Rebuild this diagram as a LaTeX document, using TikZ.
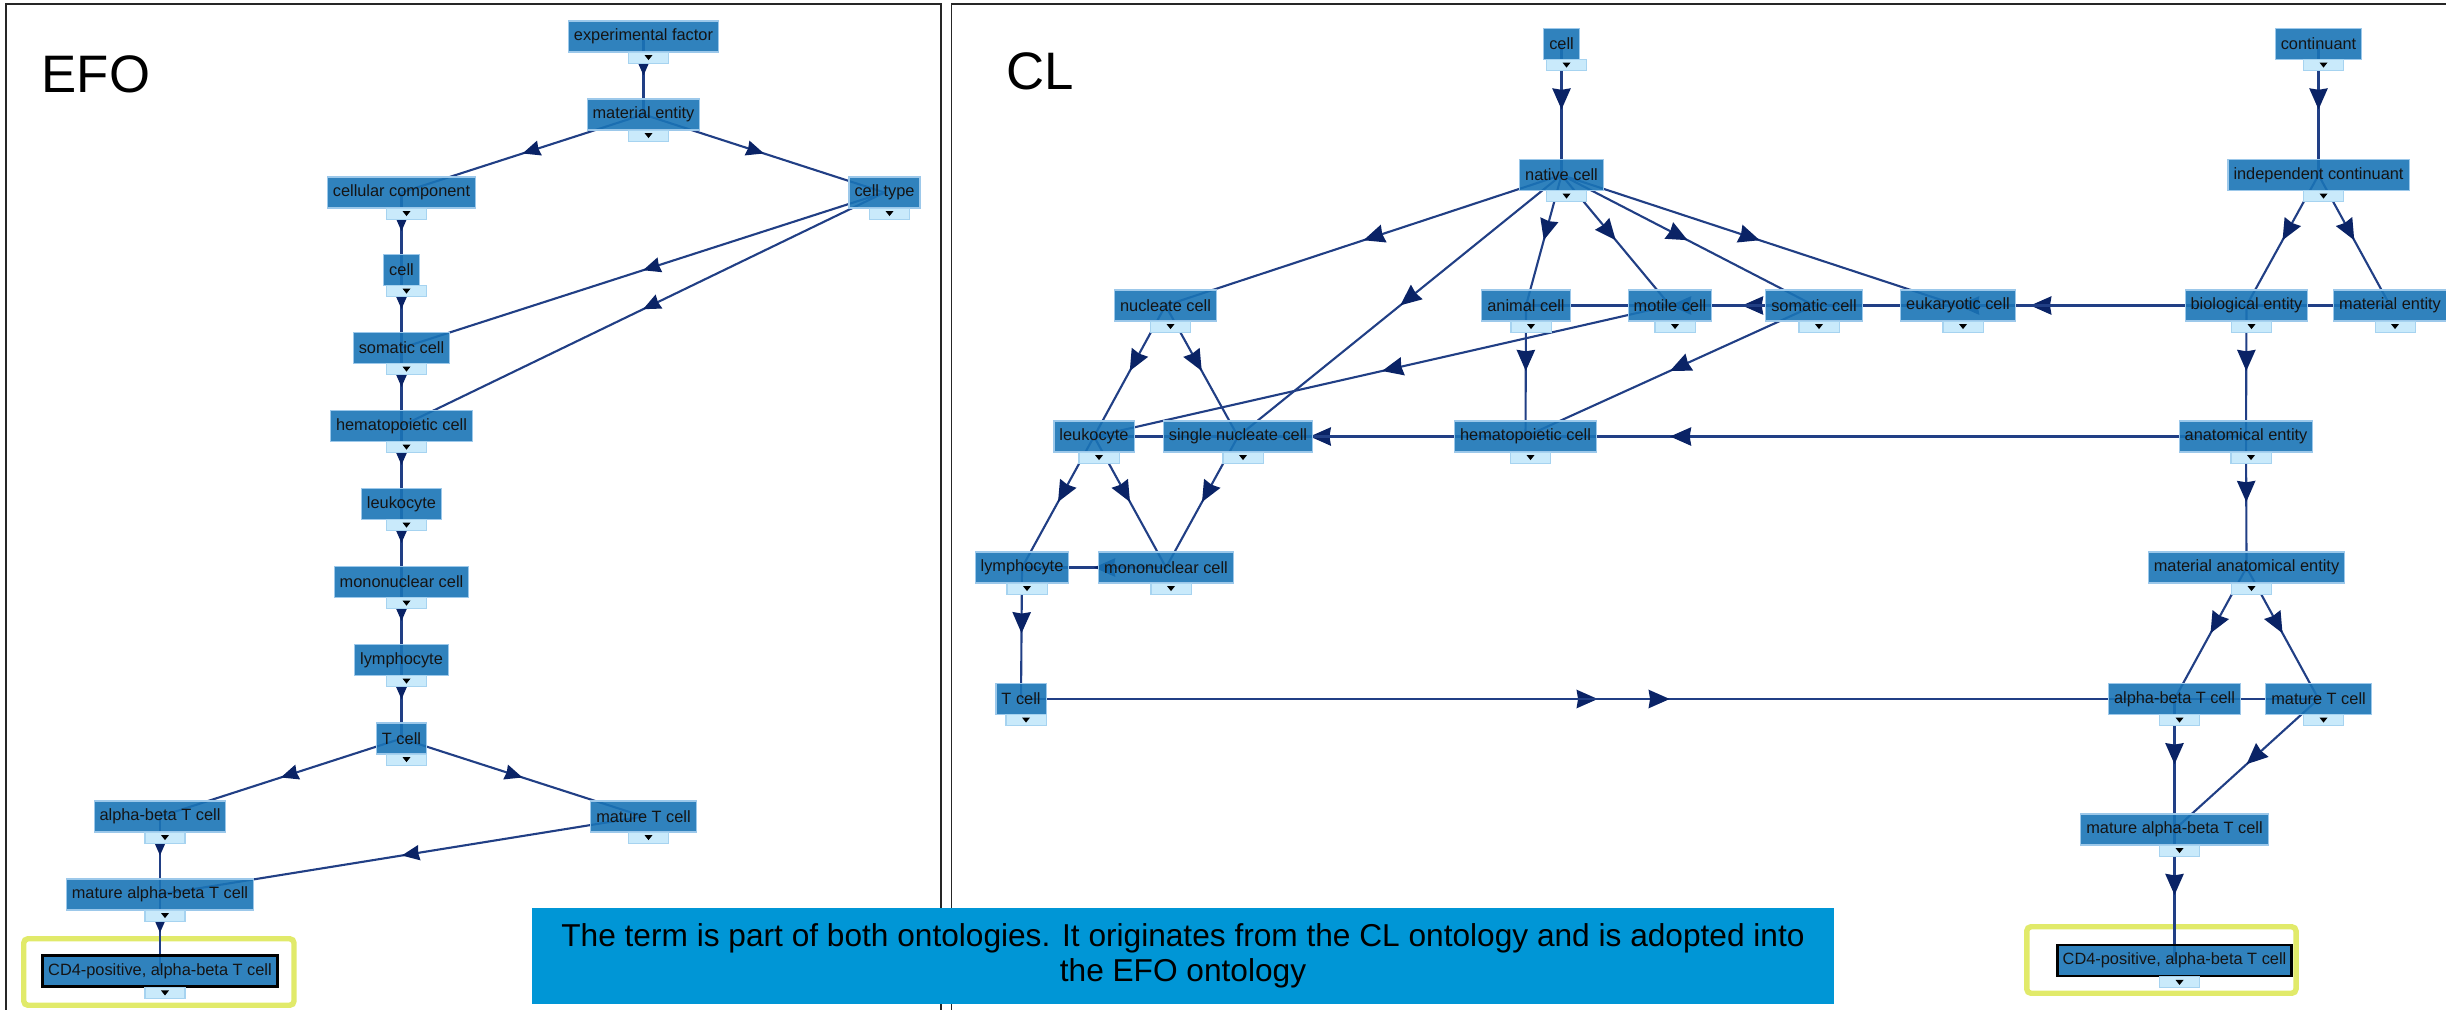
\documentclass[tikz,border=0pt]{standalone}
\usepackage{fontspec}
\setmainfont{Liberation Sans}
\usetikzlibrary{arrows.meta, calc, positioning, decorations.markings}
\definecolor{tfill}{HTML}{1A74B6}
\definecolor{tedge}{HTML}{9CC8EA}
\definecolor{tgfill}{HTML}{C9EAFB}
\definecolor{tgedge}{HTML}{A6D3F0}
\definecolor{linkblue}{HTML}{213F85}
\definecolor{tipblue}{HTML}{0A2366}
\definecolor{notecyan}{HTML}{0096D6}
\definecolor{hilite}{HTML}{E1EA6A}
\pgfdeclarelayer{back}
\pgfsetlayers{back,main}
\tikzset{
  term/.style={rectangle, fill=tfill, draw=tedge, line width=0.3pt, fill opacity=0.9,
    text opacity=1, minimum height=0.31cm, inner xsep=0.055cm, inner ysep=0pt,
    font=\fontsize{4.65}{5}\selectfont, text=black!92},
  chosen/.style={draw=black, line width=0.8pt},
  tog/.style={rectangle, fill=tgfill, draw=tgedge, line width=0.3pt, minimum width=0.4cm,
    minimum height=0.11cm, inner sep=0pt, anchor=north},
  link/.style={draw=linkblue, line width=0.6pt, postaction={decorate}},
  efolink/.style={link, decoration={markings, mark=at position 0.5 with
    {\arrow{Stealth[length=5pt, width=4.3pt, inset=0.3pt, color=tipblue]}}}},
  cllink/.style={link, decoration={markings, mark=at position 0.5 with
    {\arrow{Stealth[length=6pt, width=5.2pt, inset=0.4pt, color=tipblue]}}}},
  frame/.style={draw=black!85, line width=0.55pt},
  pick/.style={draw=hilite, line width=1.55pt, rounded corners=1.2pt},
  notebox/.style={fill=notecyan, minimum width=13.02cm, minimum height=0.96cm, inner sep=0pt,
    align=center, font=\fontsize{9}{10}\selectfont},
  big/.style={font=\fontsize{15}{18}\selectfont, anchor=base west, inner sep=0pt}
}
% one ontology term with its expand toggle below
\newcommand{\oterm}[4][]{%
  \node[term,#1] (#2) at (#3) {#4};
  \node[tog] (#2-t) at ($(#2.south)+(5,-1)$) {};
  \fill ($(#2-t.center)+(-4,-2.5)$) -- ++(8,0) -- ++(-4,5) -- cycle;}

\begin{document}
\begin{tikzpicture}[x=0.01cm, y=-0.01cm]
  \useasboundingbox (0,0) rectangle (2446,1009);
  \draw[frame] (6,1015) |- (941,4) -- (941,1015);
  \draw[frame] (951.5,1015) |- (2450,4);
  \node[big] (lbl-efo) at (41,92.5) {EFO};
  \node[big] (lbl-cl) at (1006,89.5) {CL};

  % EFO
  \oterm{e-expf}{643.5,36.5}{experimental factor}
  \oterm{e-mat}{643.5,114.5}{material entity}
  \oterm{e-ccomp}{401.5,192.5}{cellular component}
  \oterm{e-ctype}{884.5,192.5}{cell type}
  \oterm{e-cell}{401.5,270}{cell}
  \oterm{e-som}{401.5,348}{somatic cell}
  \oterm{e-hem}{401.5,426}{hematopoietic cell}
  \oterm{e-leuk}{401.5,504}{leukocyte}
  \oterm{e-mono}{401.5,582}{mononuclear cell}
  \oterm{e-lymph}{401.5,660}{lymphocyte}
  \oterm{e-tcell}{401.5,738.5}{T cell}
  \oterm{e-ab}{160,816.5}{alpha-beta T cell}
  \oterm{e-mt}{643.5,816.5}{mature T cell}
  \oterm{e-mab}{160,894.5}{mature alpha-beta T cell}
  \oterm[chosen]{e-cd4}{160,971}{CD4-positive, alpha-beta T cell}

  % CL
  \oterm{c-cell}{1561.5,44}{cell}
  \oterm{c-native}{1561.5,175}{native cell}
  \oterm{c-nucl}{1165.5,305.5}{nucleate cell}
  \oterm{c-animal}{1526,305.5}{animal cell}
  \oterm{c-motile}{1670,305.5}{motile cell}
  \oterm{c-somatic}{1814,305.5}{somatic cell}
  \oterm{c-euk}{1958,305.5}{eukaryotic cell}
  \oterm{c-cont}{2318.5,44}{continuant}
  \oterm{c-indep}{2318.5,175}{independent continuant}
  \oterm{c-bio}{2246.5,305.5}{biological entity}
  \oterm{c-mat}{2390,305.5}{material entity}
  \oterm{c-leuk}{1094,436.5}{leukocyte}
  \oterm{c-single}{1238,436.5}{single nucleate cell}
  \oterm{c-hem}{1525.5,436.5}{hematopoietic cell}
  \oterm{c-anat}{2246,436.5}{anatomical entity}
  \oterm{c-lymph}{1022,567.5}{lymphocyte}
  \oterm{c-mono}{1166,567.5}{mononuclear cell}
  \oterm{c-matanat}{2246.5,567.5}{material anatomical entity}
  \oterm{c-tcell}{1021,699}{T cell}
  \oterm{c-ab}{2174.5,699}{alpha-beta T cell}
  \oterm{c-mt}{2318.5,699}{mature T cell}
  \oterm{c-mab}{2174.5,829.5}{mature alpha-beta T cell}
  \oterm[chosen]{c-cd4}{2174.5,960.5}{CD4-positive, alpha-beta T cell}

  \begin{pgfonlayer}{back}
    \draw[pick] (23.75,938.75) rectangle (294,1005.25);
    \draw[pick] (2026.75,926.75) rectangle (2296,993.25);
    \foreach \a/\b in {e-expf/e-mat, e-mat/e-ccomp, e-mat/e-ctype, e-ccomp/e-cell,
        e-cell/e-som, e-ctype/e-som, e-ctype/e-hem, e-som/e-hem, e-hem/e-leuk,
        e-leuk/e-mono, e-mono/e-lymph, e-lymph/e-tcell, e-tcell/e-ab, e-tcell/e-mt,
        e-ab/e-mab, e-mt/e-mab, e-mab/e-cd4}
      \draw[efolink] (\a.center) -- (\b.center);
    \foreach \a/\b in {c-cell/c-native, c-native/c-nucl, c-native/c-single,
        c-native/c-animal, c-native/c-motile, c-native/c-somatic, c-native/c-euk,
        c-nucl/c-leuk, c-nucl/c-single, c-motile/c-leuk, c-animal/c-hem,
        c-somatic/c-hem, c-somatic/c-animal, c-somatic/c-motile, c-bio/c-somatic,
        c-mat/c-animal, c-hem/c-leuk, c-anat/c-leuk, c-leuk/c-lymph, c-leuk/c-mono,
        c-single/c-mono, c-mono/c-lymph, c-lymph/c-tcell, c-tcell/c-ab, c-tcell/c-mt,
        c-cont/c-indep, c-indep/c-bio, c-indep/c-mat, c-bio/c-anat, c-anat/c-matanat,
        c-matanat/c-ab, c-matanat/c-mt, c-ab/c-mab, c-mt/c-mab, c-mab/c-cd4}
      \draw[cllink] (\a.center) -- (\b.center);
  \end{pgfonlayer}

  \node[notebox] (note) at (1183,956) {The term is part of both ontologies. It originates from the CL ontology and is adopted into\\the EFO ontology};
\end{tikzpicture}
\end{document}
